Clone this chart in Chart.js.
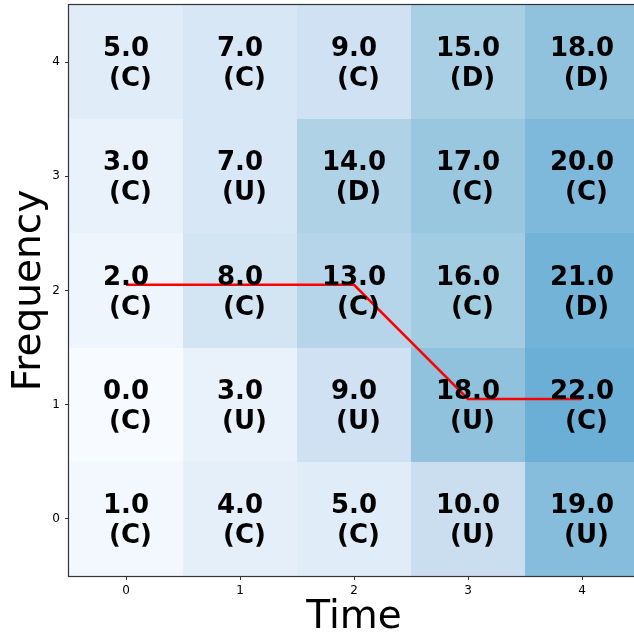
<!DOCTYPE html>
<html>
<head>
<meta charset="utf-8">
<script src="https://cdn.jsdelivr.net/npm/chart.js@4.4.0/dist/chart.umd.min.js"></script>
<style>
  html, body { margin: 0; padding: 0; background: #fff; overflow: hidden; }
  #wrap { width: 634px; height: 637px; overflow: hidden; position: relative; }
</style>
</head>
<body>
<div id="wrap"><canvas id="heat" width="700" height="637"></canvas></div>
<script>
/* ── data ── */
var TIMES = [0, 1, 2, 3, 4];
var FREQS = [0, 1, 2, 3, 4];           // row 0 = bottom
var TICKS = [0, 1, 2, 3, 4];

var VALS_F0 = [1, 4, 5, 10, 19];
var VALS_F1 = [0, 3, 9, 18, 22];
var VALS_F2 = [2, 8, 13, 16, 21];
var VALS_F3 = [3, 7, 14, 17, 20];
var VALS_F4 = [5, 7, 9, 15, 18];
var VALUES = [VALS_F0, VALS_F1, VALS_F2, VALS_F3, VALS_F4];

var TAGS_F0 = ['C', 'C', 'C', 'U', 'U'];
var TAGS_F1 = ['C', 'U', 'U', 'U', 'C'];
var TAGS_F2 = ['C', 'C', 'C', 'C', 'D'];
var TAGS_F3 = ['C', 'U', 'D', 'C', 'C'];
var TAGS_F4 = ['C', 'C', 'C', 'D', 'D'];
var TAGS = [TAGS_F0, TAGS_F1, TAGS_F2, TAGS_F3, TAGS_F4];

var PATH_X = [0, 2, 3, 4];
var PATH_Y = [2.05, 2.05, 1.05, 1.05];

var VMAX = 44;

/* ── Blues colormap ── */
var BLUES = ['#f7fbff', '#deebf7', '#c6dbef', '#9ecae1', '#6baed6',
             '#4292c6', '#2171b5', '#08519c', '#08306b'];
function hex2rgb(h) {
    return [parseInt(h.substr(1, 2), 16), parseInt(h.substr(3, 2), 16), parseInt(h.substr(5, 2), 16)];
}
function blues(t) {
    t = Math.max(0, Math.min(1, t));
    var p = t * (BLUES.length - 1);
    var i = Math.min(Math.floor(p), BLUES.length - 2);
    var f = p - i;
    var a = hex2rgb(BLUES[i]), b = hex2rgb(BLUES[i + 1]);
    var c = a.map(function (v, k) { return Math.round(v + (b[k] - v) * f); });
    return 'rgb(' + c.join(',') + ')';
}

/* ── cells, labels, frame ── */
var heatPlugin = {
    id: 'heatCells',
    beforeDatasetsDraw: function (chart) {
        var ctx = chart.ctx, xs = chart.scales.x, ys = chart.scales.y;
        ctx.save();
        FREQS.forEach(function (f, r) {
            TIMES.forEach(function (t, c) {
                var x0 = Math.round(xs.getPixelForValue(t - 0.5));
                var x1 = Math.round(xs.getPixelForValue(t + 0.5));
                var y0 = Math.round(ys.getPixelForValue(f + 0.5));
                var y1 = Math.round(ys.getPixelForValue(f - 0.5));
                ctx.fillStyle = blues(VALUES[r][c] / VMAX);
                ctx.fillRect(x0, y0, x1 - x0, y1 - y0);
            });
        });
        ctx.restore();
    },
    afterDatasetsDraw: function (chart) {
        var ctx = chart.ctx, xs = chart.scales.x, ys = chart.scales.y;
        var a = chart.chartArea;
        ctx.save();
        ctx.fillStyle = '#000';
        ctx.font = 'bold 26px "DejaVu Sans"';
        ctx.textAlign = 'center';
        ctx.textBaseline = 'alphabetic';
        FREQS.forEach(function (f, r) {
            TIMES.forEach(function (t, c) {
                var cx = xs.getPixelForValue(t);
                var cy = ys.getPixelForValue(f);
                ctx.fillText(VALUES[r][c].toFixed(1), cx, cy - 6);
                ctx.fillText(' (' + TAGS[r][c] + ')', cx, cy + 24);
            });
        });
        // frame (matplotlib spines)
        ctx.strokeStyle = '#333';
        ctx.lineWidth = 1.2;
        ctx.strokeRect(a.left - 0.5, a.top - 0.5, a.right - a.left + 1, a.bottom - a.top + 1);
        ctx.restore();
    }
};

var FONT = '"DejaVu Sans", sans-serif';
Chart.defaults.font.family = FONT;
Chart.defaults.color = '#000';

function fixTicks(s) { s.ticks = TICKS.map(function (v) { return { value: v }; }); }

new Chart(document.getElementById('heat'), {
    type: 'line',
    data: {
        datasets: [{
            data: PATH_X.map(function (x, i) { return { x: x, y: PATH_Y[i] }; }),
            borderColor: '#ff0000',
            borderWidth: 2.5,
            pointRadius: 0,
            fill: false,
            tension: 0
        }]
    },
    options: {
        responsive: false,
        devicePixelRatio: 1,
        animation: false,
        layout: { padding: { top: 5, right: 61, left: 0, bottom: 0 } },
        plugins: { legend: { display: false }, tooltip: { enabled: false } },
        scales: {
            x: {
                type: 'linear',
                min: -0.5, max: 4.5,
                afterBuildTicks: fixTicks,
                afterFit: function (s) { s.height = 61; s.paddingLeft = 0; s.paddingRight = 0; },
                grid: { drawOnChartArea: false, tickLength: 4, tickColor: '#333', tickWidth: 1 },
                border: { display: false },
                ticks: { padding: 4, font: { size: 12 }, maxRotation: 0 },
                title: { display: true, text: 'Time', font: { size: 39, lineHeight: 1 }, padding: { top: 0, bottom: 0 } }
            },
            y: {
                type: 'linear',
                min: -0.5, max: 4.5,
                afterBuildTicks: fixTicks,
                afterFit: function (s) { s.width = 69; s.paddingTop = 0; s.paddingBottom = 0; },
                grid: { drawOnChartArea: false, tickLength: 4, tickColor: '#333', tickWidth: 1 },
                border: { display: false },
                ticks: { padding: 5, font: { size: 12 } },
                title: { display: true, text: 'Frequency', font: { size: 39 }, padding: { top: 6, bottom: 0 } }
            }
        }
    },
    plugins: [heatPlugin]
});
</script>
</body>
</html>
